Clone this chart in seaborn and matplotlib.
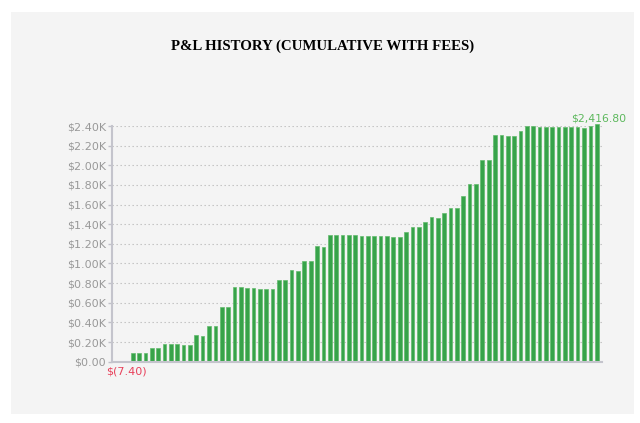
import matplotlib
matplotlib.use("Agg")
import matplotlib.pyplot as plt
from matplotlib.patches import Rectangle
from matplotlib.ticker import FixedLocator, FixedFormatter
import seaborn as sns
import pandas as pd

# ---- data ----
pnl_values = [
    -2.0, -7.40,
    90, 90, 88, 136, 136, 183, 183, 177, 173, 172, 269, 266, 363, 363, 560, 560,
    760, 757, 752, 748, 745, 742, 738, 835, 832, 930, 928, 1025, 1022, 1174, 1170,
    1293, 1293,
    1290, 1287, 1287, 1283, 1283, 1280, 1280, 1276, 1273, 1270, 1320, 1371, 1368,
    1419, 1470, 1467, 1514, 1565, 1561, 1687, 1809, 1809, 2057, 2057, 2305, 2305,
    2301, 2298, 2345, 2400, 2396, 2393, 2393, 2390, 2390, 2386, 2386, 2386, 2383,
    2396, 2416.80,
]
trade_index = list(range(len(pnl_values)))
ytick_values = [0, 200, 400, 600, 800, 1000, 1200, 1400, 1600, 1800, 2000, 2200, 2400]
ytick_labels = ["$0.00", "$0.20K", "$0.40K", "$0.60K", "$0.80K", "$1.00K", "$1.20K",
                "$1.40K", "$1.60K", "$1.80K", "$2.00K", "$2.20K", "$2.40K"]
title_text = "P&L HISTORY (CUMULATIVE WITH FEES)"
max_label = "$2,416.80"
min_label = "$(7.40)"

GREEN = "#37a34a"
GREEN_TXT = "#5cb85c"
RED = "#e8415b"

df = pd.DataFrame({
    "trade": trade_index,
    "pnl": pnl_values,
    "sign": ["neg" if v < 0 else "pos" for v in pnl_values],
})

sns.set_theme(style="white")
plt.rcParams["font.family"] = ["DejaVu Sans"]

fig = plt.figure(figsize=(6.4, 4.23), dpi=100)
fig.patch.set_facecolor("white")
fig.patches.append(Rectangle((11 / 640, 1 - 414 / 423), (634 - 11) / 640, (414 - 12) / 423,
                             transform=fig.transFigure, facecolor="#f4f4f4",
                             edgecolor="none", zorder=-5))

ax = fig.add_axes([112 / 640, 1 - 361.7 / 423, (602 - 112) / 640, (361.7 - 126) / 423])
ax.set_zorder(2)
ax.set_facecolor("none")

sns.barplot(data=df, x="trade", y="pnl", hue="sign",
            palette={"neg": "#f08a9a", "pos": GREEN}, dodge=False, legend=False,
            width=0.58, ax=ax, saturation=1, errorbar=None,
            edgecolor="#62bb6c", linewidth=0.5, zorder=3)
for p in ax.patches:
    p.set_clip_on(False)
    h = p.get_height()
    if h < 0:
        p.set_edgecolor(RED if h < -5 else "#f3a5b1")
        p.set_facecolor(RED if h < -5 else "#f3a5b1")

ax.set_xlim(-1.26, len(pnl_values) - 1 + 0.83)
ax.set_ylim(0, 2400)

ax.yaxis.set_major_locator(FixedLocator(ytick_values))
ax.yaxis.set_major_formatter(FixedFormatter(ytick_labels))
ax.tick_params(axis="y", colors="#c0c0c8", labelcolor="#999999", labelsize=8,
               length=3, width=1, pad=1.5, left=True)
ax.tick_params(axis="x", bottom=False, labelbottom=False)
ax.set_xlabel("")
ax.set_ylabel("")

ax.grid(axis="y", color="#bdbdbd", linestyle=(0, (1.2, 2.4)), linewidth=0.8, zorder=1)
ax.grid(axis="x", visible=False)
ax.set_axisbelow(True)

for s in ["top", "right"]:
    ax.spines[s].set_visible(False)
for s in ["left", "bottom"]:
    ax.spines[s].set_color("#c4c4cc")
    ax.spines[s].set_linewidth(1.5)
    ax.spines[s].set_zorder(4)

imax = max(trade_index, key=lambda i: pnl_values[i])
imin = min(trade_index, key=lambda i: pnl_values[i])
ax.annotate(max_label, (imax, pnl_values[imax]), xytext=(1.5, 0.5), textcoords="offset points",
            ha="center", va="bottom", color=GREEN_TXT, fontsize=7.8, annotation_clip=False)
ax.annotate(min_label, (imin, 0), xytext=(0, -3.5), textcoords="offset points",
            ha="center", va="top", color=RED, fontsize=8, annotation_clip=False)

fig.text(323 / 640, 1 - 46 / 423, title_text, ha="center", va="center",
         family=["Liberation Serif"], fontweight="bold", fontsize=10.7, color="black",
         zorder=5)

fig.savefig("out.png", dpi=100, facecolor=fig.get_facecolor())
